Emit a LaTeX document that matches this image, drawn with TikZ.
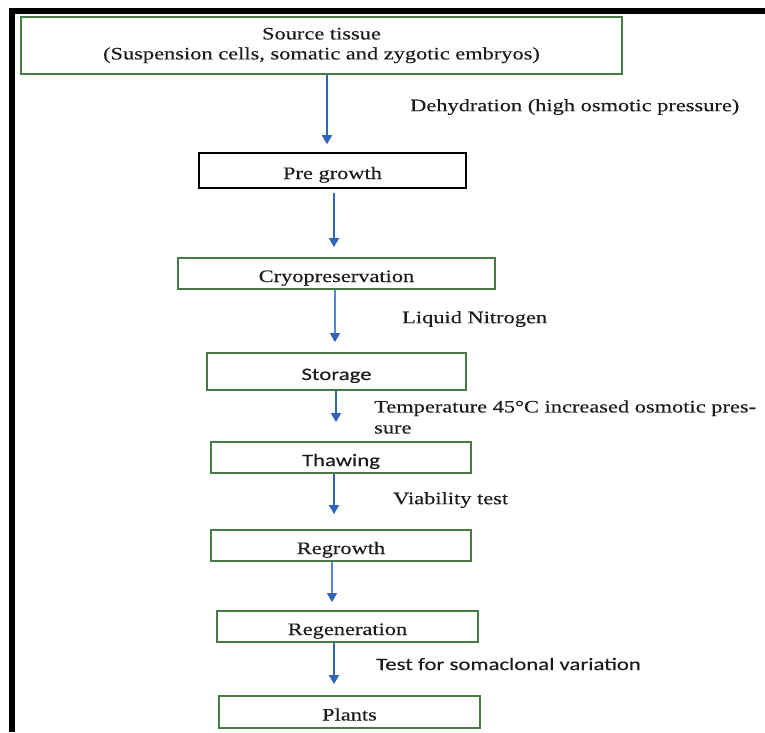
\documentclass[tikz,border=0pt]{standalone}
\usepackage{fontspec}
\setmainfont[FakeStretch=1.28,FakeBold=0.3]{Liberation Serif}
\newfontfamily\carl[FakeStretch=1.30,FakeBold=0.3]{Carlito}
\usetikzlibrary{arrows.meta}
\definecolor{boxgreen}{RGB}{72,122,72}
\definecolor{arrblue}{RGB}{48,100,182}
\definecolor{arrlight}{RGB}{92,132,212}
\definecolor{txt}{RGB}{30,28,26}
\begin{document}
\begin{tikzpicture}[x=1pt,y=-1pt,
  every node/.style={text=txt, font=\fontsize{17.5}{20}\selectfont},
  gbox/.style={draw=boxgreen, line width=1.8pt, inner sep=0pt, align=center},
  bbox/.style={draw=black, line width=1.6pt, inner sep=0pt, align=center},
  onel/.style={text height=17pt, text depth=0pt},
  arr/.style={draw=arrblue, line width=1.7pt, -{Triangle[length=9pt,width=10pt]}},
  arrl/.style={draw=arrlight, line width=1.1pt, -{Triangle[length=9pt,width=10pt,color=arrblue,fill=arrblue]}},
  lab/.style={anchor=west, inner sep=0pt, align=left}
]
\useasboundingbox (0,0) rectangle (765,732);
% frame bars
\fill[black] (9,8) rectangle (765,14);
\fill[black] (9,8) rectangle (15,732);

% boxes
\node[gbox, minimum width=601pt, minimum height=57pt] (src) at (321.5,45.5)
  {Source tissue\\(Suspension cells, somatic and zygotic embryos)};
\node[bbox, onel, minimum width=267pt, minimum height=35pt] (pre) at (332.5,170.5) {Pre growth};
\node[gbox, onel, minimum width=317pt, minimum height=31pt] (cryo) at (336.5,273.5) {Cryopreservation};
\node[gbox, onel, minimum width=259pt, minimum height=37pt] (stor) at (336.5,371.5) {\carl Storage};
\node[gbox, onel, minimum width=260pt, minimum height=31pt] (thaw) at (341,457.5) {\carl Thawing};
\node[gbox, onel, minimum width=260pt, minimum height=31pt] (regr) at (341,545.5) {Regrowth};
\node[gbox, onel, minimum width=261pt, minimum height=31pt] (regen) at (347.5,626.5) {Regeneration};
\node[gbox, onel, minimum width=261pt, minimum height=32pt] (plants) at (349.5,712) {Plants};

% labels
\node[lab] (l1) at (410,107) {Dehydration (high osmotic pressure)};
\node[lab] (l2) at (402,319) {Liquid Nitrogen};
\node[lab, font=\fontsize{17.5}{21}\selectfont] (l3) at (374,417) {Temperature 45°C increased osmotic pres-\\sure};
\node[lab] (l4) at (393,500) {Viability test};
\node[lab, font=\carl\fontsize{17.5}{20}\selectfont] (l5) at (376,664) {Test for somaclonal variation};

% arrows
\draw[arr, shorten >=8pt] (src.south -| 327,0) -- (pre.north -| 327,0);
\draw[arr, shorten <=4pt, shorten >=10pt] (pre.south -| 334,0) -- (cryo.north -| 334,0);
\draw[arrl, shorten >=10pt] (cryo.south -| 335,0) -- (stor.north -| 335,0);
\draw[arr, shorten >=19pt] (stor.south -| 336,0) -- (thaw.north -| 336,0);
\draw[arr, shorten >=15pt] (thaw.south -| 334,0) -- (regr.north -| 334,0);
\draw[arrl, shorten >=8pt] (regr.south -| 332,0) -- (regen.north -| 332,0);
\draw[arr, shorten >=11pt] (regen.south -| 334,0) -- (plants.north -| 334,0);
\end{tikzpicture}
\end{document}
